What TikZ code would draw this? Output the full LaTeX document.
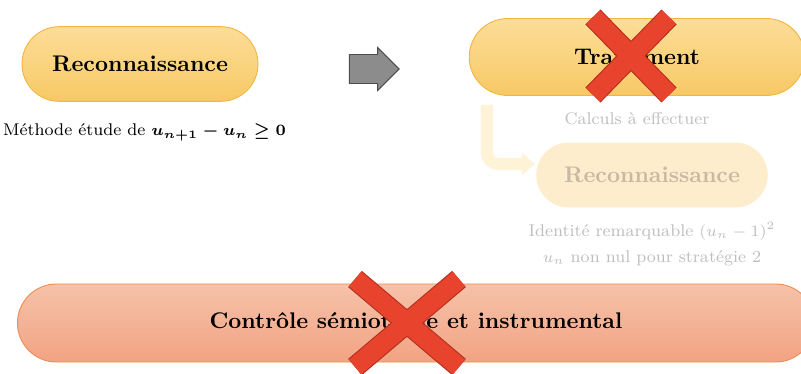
\documentclass[tikz,border=0pt]{standalone}
\usepackage{amsmath,amssymb}
\usepackage{tikz}
\usetikzlibrary{arrows.meta,positioning,shapes.misc,shapes.arrows,calc}
\usepackage{xcolor}

\definecolor{recotop}{HTML}{FCDD98}
\definecolor{recobot}{HTML}{F7C965}
\definecolor{recoline}{HTML}{F2B640}
\definecolor{ctrltop}{HTML}{F6C2A9}
\definecolor{ctrlbot}{HTML}{F2A383}
\definecolor{ctrlline}{HTML}{EE8E52}
\definecolor{fadefill}{HTML}{FDEDCC}
\definecolor{fadetext}{HTML}{C8B9A3}
\definecolor{fadegray}{HTML}{BEBEBE}
\definecolor{fadearrow}{HTML}{FEF3D6}
\definecolor{crossred}{HTML}{E8442D}
\definecolor{crossdark}{HTML}{B5301F}

\begin{document}
\begin{tikzpicture}[
    x=0.442pt, y=-0.442pt,
    node distance=0.3cm,
    phase/.style={rounded rectangle, draw=recoline, top color=recotop, bottom color=recobot,
                  minimum width=111pt, minimum height=33pt, font=\bfseries},
    control/.style={rounded rectangle, draw=ctrlline, top color=ctrltop, bottom color=ctrlbot,
                  minimum width=359pt, minimum height=34.5pt, font=\bfseries},
    faded/.style={rounded rectangle, fill=fadefill, text=fadetext,
                  minimum width=109pt, minimum height=28.7pt, font=\bfseries},
    note/.style={font=\fontsize{7.5pt}{11.5pt}\selectfont, align=center},
    gonext/.style={single arrow, draw=black!70, fill=black!45, inner xsep=0pt, inner ysep=6.2pt,
                   minimum width=18.6pt, minimum height=22pt, single arrow head extend=3.1pt},
    fadeline/.style={-{Triangle[length=5.7pt, width=9.7pt]}, line width=5.3pt, fadearrow,
                     rounded corners=5pt},
    crossedge/.style={line width=9.4pt, crossdark},
    crossfill/.style={line width=8.4pt, crossred}
  ]
  \useasboundingbox (0,0) rectangle (801,374);

  % First step
  \node[phase] (reco1) at (140,64) {Reconnaissance};
  \node[note, below=0.22cm of reco1, xshift=2pt] (meth)
    {M\'ethode \'etude de {\boldmath$u_{n+1}-u_n \geq 0$}};

  \node[gonext] (go) at (367,69) {};

  % Second step (faded)
  \node[phase, minimum width=155pt, minimum height=34pt] (treat) at (637,57) {Traitement};
  \node[note, text=fadegray, below=0.14cm of treat] (calc) {Calculs \`a effectuer};
  \node[faded] (reco2) at (652,175) {Reconnaissance};
  \node[note, text=fadegray, below=0.1cm of reco2] (ident)
    {Identit\'e remarquable $(u_n-1)^2$\\$u_n$ non nul pour strat\'egie 2};

  \draw[fadeline] ([xshift=8pt, yshift=-4pt]treat.west |- treat.south)
    |- ([xshift=-0.5pt, yshift=4.9pt]reco2.west);

  % Bottom bar
  \node[control] (ctrl) at (416,323) {Contr\^ole s\'emiotique et instrumental};

  % Crosses
  \coordinate (xa) at (631,56);
  \coordinate (xb) at (407,323);
  \foreach \s in {crossedge, crossfill} {
    \draw[\s] ($(xa)+(-38,-39)$) -- ($(xa)+(38,39)$);
    \draw[\s] ($(xa)+(38,-39)$) -- ($(xa)+(-38,39)$);
    \draw[\s] ($(xb)+(-52,-44)$) -- ($(xb)+(52,44)$);
    \draw[\s] ($(xb)+(52,-44)$) -- ($(xb)+(-52,44)$);
  }
\end{tikzpicture}
\end{document}
